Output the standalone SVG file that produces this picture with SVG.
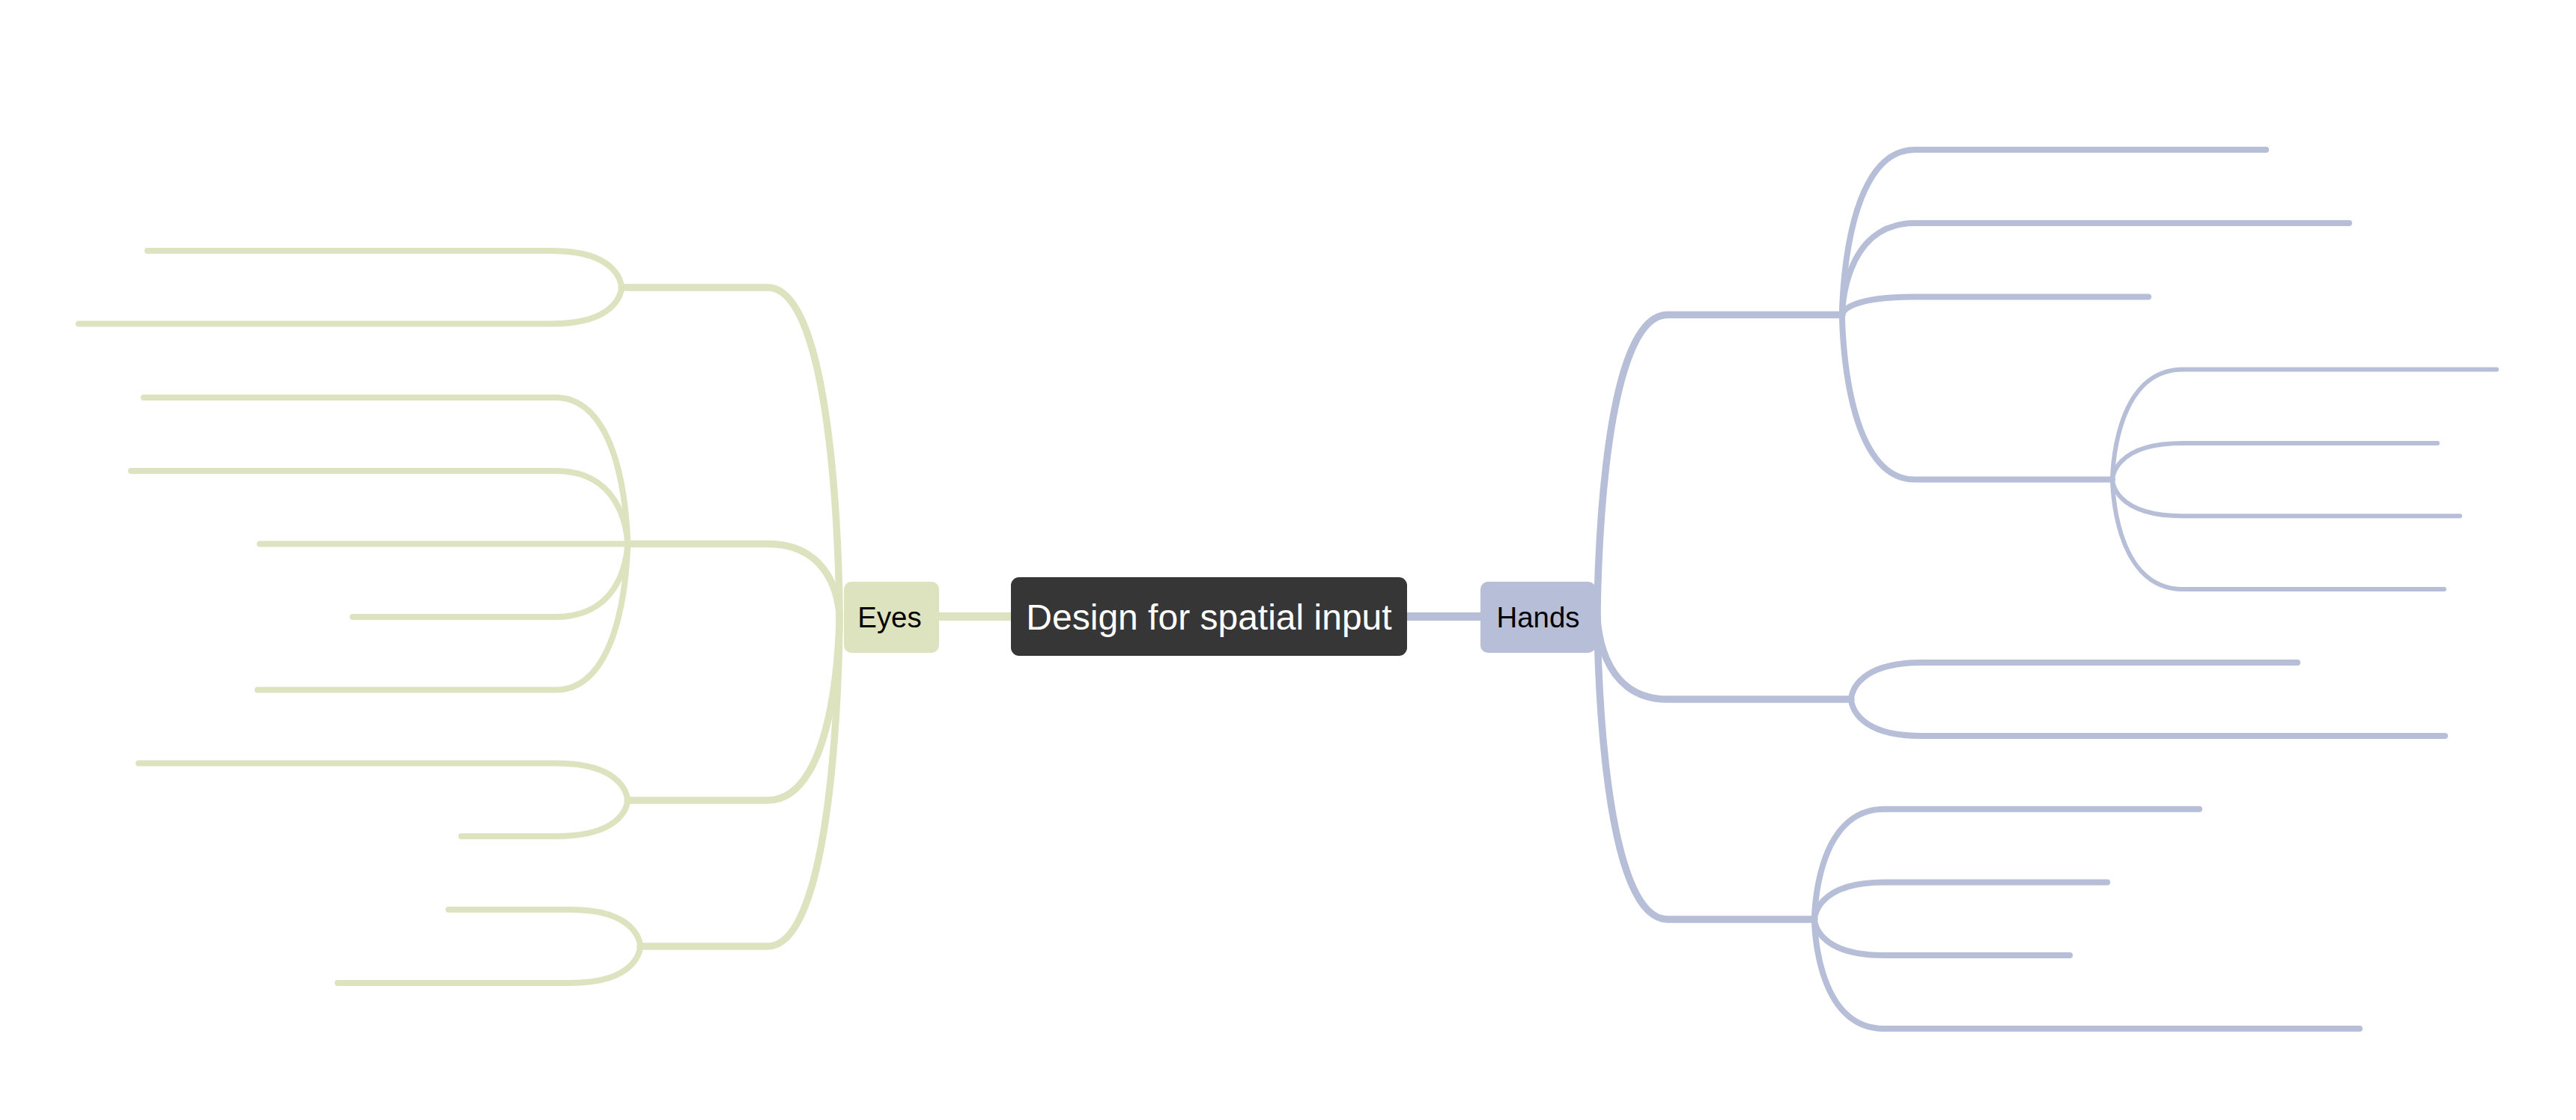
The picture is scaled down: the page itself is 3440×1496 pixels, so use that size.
<svg xmlns="http://www.w3.org/2000/svg" width="3440" height="1496" viewBox="0 0 3440 1496">
<style>
.e{fill:none;stroke-linecap:round;stroke-linejoin:round}
.g{stroke:#dde3bf}
.b{stroke:#b7bfd8}
.w0{stroke-width:11}
.w1{stroke-width:9.5}
.w2{stroke-width:8}
.w3{stroke-width:6}
.t{font-family:"Liberation Sans",Arial,sans-serif;text-anchor:middle}
</style>
<rect width="3440" height="1496" fill="#ffffff"/>
<g id="connectors">
<path class="e g w0" d="M1190,823.5 L1614,823.5"/>
<path class="e b w0" d="M1614,823.5 L2054,823.5"/>
<path class="e g w1" d="M1121,823.5 C1121,823.5 1121,384 1025,384 L830,384"/>
<path class="e g w1" d="M1121,823.5 C1121,823.5 1121,726.5 1025,726.5 L838,726.5"/>
<path class="e g w1" d="M1121,823.5 C1121,823.5 1121,1069 1025,1069 L838,1069"/>
<path class="e g w1" d="M1121,823.5 C1121,823.5 1121,1264 1025,1264 L855,1264"/>
<path class="e g w2" d="M830,384 C830,384 830,335 736,335 L197,335"/>
<path class="e g w2" d="M830,384 C830,384 830,432.5 736,432.5 L105,432.5"/>
<path class="e g w2" d="M838,726.5 C838,726.5 838,531 742,531 L192,531"/>
<path class="e g w2" d="M838,726.5 C838,726.5 838,629 742,629 L175,629"/>
<path class="e g w2" d="M838,726.5 L347,726.5"/>
<path class="e g w2" d="M838,726.5 C838,726.5 838,824 742,824 L471,824"/>
<path class="e g w2" d="M838,726.5 C838,726.5 838,921.5 742,921.5 L344,921.5"/>
<path class="e g w2" d="M838,1069 C838,1069 838,1019.6 742,1019.6 L185,1019.6"/>
<path class="e g w2" d="M838,1069 C838,1069 838,1117 742,1117 L616,1117"/>
<path class="e g w2" d="M855,1264 C855,1264 855,1215 761,1215 L599,1215"/>
<path class="e g w2" d="M855,1264 C855,1264 855,1313 761,1313 L451,1313"/>
<path class="e b w1" d="M2133,823.5 C2133,823.5 2133,420.5 2227,420.5 L2460,420.5"/>
<path class="e b w1" d="M2133,823.5 C2133,823.5 2133,934 2227,934 L2472,934"/>
<path class="e b w1" d="M2133,823.5 C2133,823.5 2133,1228 2227,1228 L2423,1228"/>
<path class="e b w2" d="M2460,420.5 C2460,420.5 2460,200 2557,200 L3026,200"/>
<path class="e b w2" d="M2460,420.5 C2460,420.5 2460,298 2557,298 L3137,298"/>
<path class="e b w2" d="M2460,420.5 C2460,420.5 2460,396.5 2557,396.5 L2869,396.5"/>
<path class="e b w2" d="M2460,420.5 C2460,420.5 2460,640.6 2557,640.6 L2821,640.6"/>
<path class="e b w3" d="M2821,640.6 C2821,640.6 2821,493.5 2915,493.5 L3334,493.5"/>
<path class="e b w3" d="M2821,640.6 C2821,640.6 2821,592 2915,592 L3255,592"/>
<path class="e b w3" d="M2821,640.6 C2821,640.6 2821,689.2 2915,689.2 L3285,689.2"/>
<path class="e b w3" d="M2821,640.6 C2821,640.6 2821,787 2915,787 L3264,787"/>
<path class="e b w2" d="M2472,934 C2472,934 2472,885 2566,885 L3068,885"/>
<path class="e b w2" d="M2472,934 C2472,934 2472,983 2566,983 L3265,983"/>
<path class="e b w2" d="M2423,1228 C2423,1228 2423,1080.7 2516,1080.7 L2937,1080.7"/>
<path class="e b w2" d="M2423,1228 C2423,1228 2423,1178.4 2516,1178.4 L2814,1178.4"/>
<path class="e b w2" d="M2423,1228 C2423,1228 2423,1276 2516,1276 L2764,1276"/>
<path class="e b w2" d="M2423,1228 C2423,1228 2423,1374 2516,1374 L3151,1374"/>
</g>
<g id="node-root">
<rect x="1350" y="771" width="529" height="105" rx="11" fill="#363636"/>
<text class="t" x="1614.5" y="841" font-size="48" fill="#ffffff">Design for spatial input</text>
</g>
<g id="node-eyes">
<rect x="1127" y="777" width="127" height="95" rx="10" fill="#dde3bf"/>
<text class="t" x="1188" y="838" font-size="38.4" fill="#000000">Eyes</text>
</g>
<g id="node-hands">
<rect x="1977" y="777" width="154" height="95" rx="10" fill="#b7bfd8"/>
<text class="t" x="2054" y="838" font-size="38.4" fill="#000000">Hands</text>
</g>
</svg>
